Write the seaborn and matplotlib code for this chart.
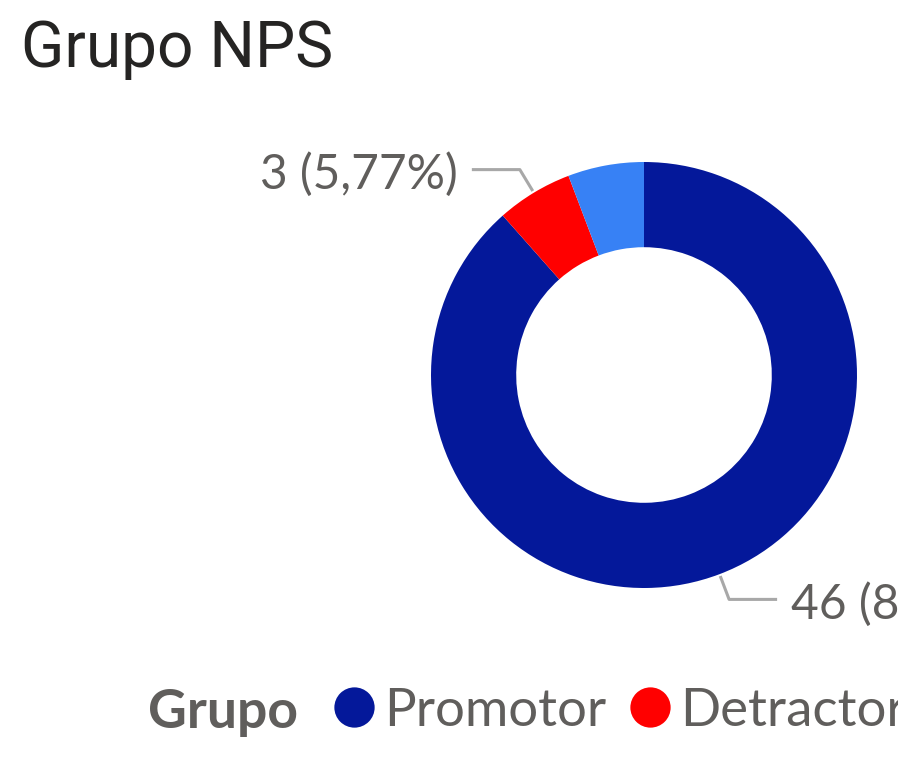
import numpy as np
import matplotlib
matplotlib.use("Agg")
import matplotlib.pyplot as plt
from matplotlib.lines import Line2D
import seaborn as sns

# data
grupos = ["Promotor", "Detractor", "Neutro"]
valores = [46, 3, 3]
cores = ["#04189A", "#FF0000", "#3781F5"]
rotulos_visiveis = ["Promotor", "Detractor"]

sns.set_theme(style="white")
plt.rcParams["font.family"] = ["Lato", "DejaVu Sans"]

W, H = 898, 760
fig = plt.figure(figsize=(W / 100, H / 100), dpi=100)
ax = fig.add_axes([0, 0, 1, 1])

cx, cy, R = 644, H - 375, 213
wedges, _ = ax.pie(valores, colors=cores, startangle=90, counterclock=False,
                   center=(cx, cy), radius=R,
                   wedgeprops=dict(width=R * 0.4, linewidth=0))
ax.set_xlim(0, W)
ax.set_ylim(0, H)
ax.set_aspect("equal")
ax.axis("off")

total = sum(valores)
cinza = "#A8A8A8"
for w, g, v in zip(wedges, grupos, valores):
    if g not in rotulos_visiveis:
        continue
    ang = np.deg2rad((w.theta1 + w.theta2) / 2)
    dx, dy = np.cos(ang), np.sin(ang)
    p0 = (cx + (R + 2) * dx, cy + (R + 2) * dy)
    p1 = (cx + (R + 27) * dx, cy + (R + 27) * dy)
    lado = 1 if dx > 0 else -1
    p2 = (p1[0] + lado * 48, p1[1])
    ax.plot([p0[0], p1[0], p2[0]], [p0[1], p1[1], p2[1]], color=cinza, lw=2.2,
            solid_capstyle="butt")
    pct = f"{100 * v / total:.2f}".replace(".", ",")
    ax.text(p2[0] + lado * 14, p2[1] - 19, f"{v} ({pct}%)", color="#605E5C",
            fontsize=34.5, ha="left" if lado > 0 else "right", va="baseline")

fig.text(21 / W, 1 - 67 / H, "Grupo NPS", fontsize=46, color="#252423",
         family=["Roboto", "DejaVu Sans"], fontweight="normal",
         va="baseline", ha="left")

fig.text(148 / W, 1 - 728 / H, "Grupo", fontsize=38.5, fontweight="bold",
         color="#605E5C", va="baseline", ha="left")
handles = [Line2D([], [], marker="o", ls="", markersize=29, color=c,
                  markeredgewidth=0) for c in cores]
fig.legend(handles, grupos, loc="center left", bbox_to_anchor=(334 / W, 1 - 711 / H),
           ncol=3, frameon=False, fontsize=38, labelcolor="#605E5C",
           handletextpad=0.2, columnspacing=0.45, borderpad=0, borderaxespad=0,
           handlelength=0.75)

fig.savefig("out.png", dpi=100)
